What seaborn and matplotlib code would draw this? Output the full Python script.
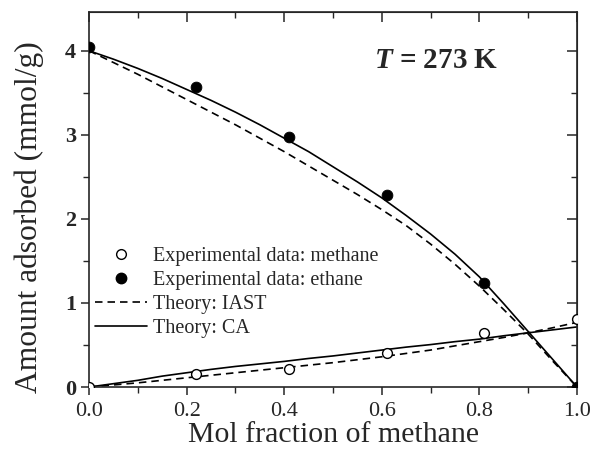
import numpy as np
import pandas as pd
import matplotlib
matplotlib.use("Agg")
import matplotlib.pyplot as plt
import seaborn as sns
from matplotlib.lines import Line2D
from matplotlib.ticker import MultipleLocator

# experimental points
x_exp = [0.0, 0.22, 0.41, 0.61, 0.81, 1.0]
methane_exp = [0.0, 0.15, 0.22, 0.41, 0.64, 0.81]
ethane_exp = [4.05, 3.57, 2.97, 2.28, 1.24, 0.0]

# theory curves
x_th = [0.0, 0.05, 0.1, 0.15, 0.2, 0.25, 0.3, 0.35, 0.4, 0.45, 0.5,
        0.55, 0.6, 0.65, 0.7, 0.75, 0.8, 0.85, 0.9, 0.95, 1.0]
ethane_ca = [4.0, 3.90, 3.79, 3.67, 3.54, 3.41, 3.27, 3.12, 2.96, 2.80, 2.62,
             2.44, 2.25, 2.04, 1.82, 1.58, 1.31, 0.99, 0.66, 0.33, 0.0]
ethane_iast = [4.0, 3.86, 3.72, 3.57, 3.42, 3.27, 3.12, 2.96, 2.80, 2.63, 2.46,
               2.29, 2.11, 1.92, 1.70, 1.46, 1.20, 0.92, 0.63, 0.31, 0.0]
methane_ca = [0.0, 0.04, 0.08, 0.13, 0.17, 0.21, 0.245, 0.275, 0.305, 0.34, 0.37,
              0.405, 0.44, 0.475, 0.505, 0.54, 0.57, 0.61, 0.645, 0.68, 0.715]
methane_iast = [0.0, 0.025, 0.05, 0.08, 0.11, 0.14, 0.17, 0.20, 0.23, 0.26, 0.29,
                0.325, 0.36, 0.40, 0.44, 0.49, 0.54, 0.59, 0.645, 0.705, 0.77]

sns.set_style("ticks")
plt.rcParams["font.family"] = ["Liberation Serif", "DejaVu Serif"]
plt.rcParams["mathtext.fontset"] = "custom"
plt.rcParams["mathtext.it"] = "Liberation Serif:italic:bold"
plt.rcParams["mathtext.rm"] = "Liberation Serif:bold"

fig = plt.figure(figsize=(5.9, 4.49), dpi=100)
ax = fig.add_axes([0.151, 0.138, 0.827, 0.835])

lw = 1.2
dash = (0, (4.5, 3))
sns.lineplot(x=x_th, y=ethane_ca, ax=ax, color="black", lw=lw)
sns.lineplot(x=x_th, y=methane_ca, ax=ax, color="black", lw=lw)
sns.lineplot(x=x_th, y=ethane_iast, ax=ax, color="black", lw=lw, linestyle=dash)
sns.lineplot(x=x_th, y=methane_iast, ax=ax, color="black", lw=lw, linestyle=dash)

sns.scatterplot(x=x_exp, y=methane_exp, ax=ax, marker="o", s=50,
                facecolor="white", edgecolor="black", linewidth=1.0, zorder=3)
sns.scatterplot(x=x_exp, y=ethane_exp, ax=ax, marker="o", s=60,
                color="black", edgecolor="black", zorder=3)
# points on the frame are cut by it, as in the original
for coll in ax.collections:
    coll.set_clip_on(True)
    coll.set_clip_path(ax.patch)

ax.set_xlim(0, 1.0)
ax.set_ylim(0, 4.46)
ax.xaxis.set_minor_locator(MultipleLocator(0.1))
ax.yaxis.set_major_locator(MultipleLocator(1))
ax.yaxis.set_minor_locator(MultipleLocator(0.5))
ax.set_xticks([0, 0.2, 0.4, 0.6, 0.8, 1.0])
ax.set_xticklabels(["0.0", "0.2", "0.4", "0.6", "0.8", "1.0"])
ax.tick_params(which="major", direction="out", length=6, width=1.1, labelsize=16)
ax.tick_params(which="minor", direction="out", length=4, width=1.0)
ax.tick_params(axis="x", which="major", pad=5)
for lab in ax.get_yticklabels():
    lab.set_fontweight("bold")

for sp in ax.spines.values():
    sp.set_visible(True)
    sp.set_linewidth(1.2)

top = ax.secondary_xaxis("top")
top.xaxis.set_major_locator(MultipleLocator(0.2))
top.xaxis.set_minor_locator(MultipleLocator(0.1))
top.tick_params(which="major", direction="in", length=7, width=1.1, labeltop=False)
top.tick_params(which="minor", direction="in", length=4, width=1.0)
right = ax.secondary_yaxis("right")
right.yaxis.set_major_locator(MultipleLocator(1))
right.yaxis.set_minor_locator(MultipleLocator(0.5))
right.tick_params(which="major", direction="in", length=7, width=1.1, labelright=False)
right.tick_params(which="minor", direction="in", length=4, width=1.0)

ax.set_xlabel("Mol fraction of methane", fontsize=21.5)
ax.xaxis.set_label_coords(0.5, -0.092)
ax.set_ylabel("Amount adsorbed (mmol/g)", fontsize=22.7)
ax.yaxis.set_label_coords(-0.093, 0.452)

ax.text(0.711, 0.872, r"$T$ = 273 K", transform=ax.transAxes, fontsize=21,
        fontweight="bold", ha="center", va="center")

handles = [
    Line2D([], [], ls="none", marker="o", ms=7, mfc="white", mec="black", mew=1.0),
    Line2D([], [], ls="none", marker="o", ms=7.5, mfc="black", mec="black"),
    Line2D([], [], color="black", lw=lw, ls=dash),
    Line2D([], [], color="black", lw=lw),
]
labels = ["Experimental data: methane", "Experimental data: ethane",
          "Theory: IAST", "Theory: CA"]
ax.legend(handles, labels, loc="center left", bbox_to_anchor=(0.012, 0.252),
          frameon=False, fontsize=14.5, handlelength=2.6, handletextpad=0.3,
          labelspacing=0.25, borderpad=0, borderaxespad=0)

fig.savefig("out.png", dpi=100)
